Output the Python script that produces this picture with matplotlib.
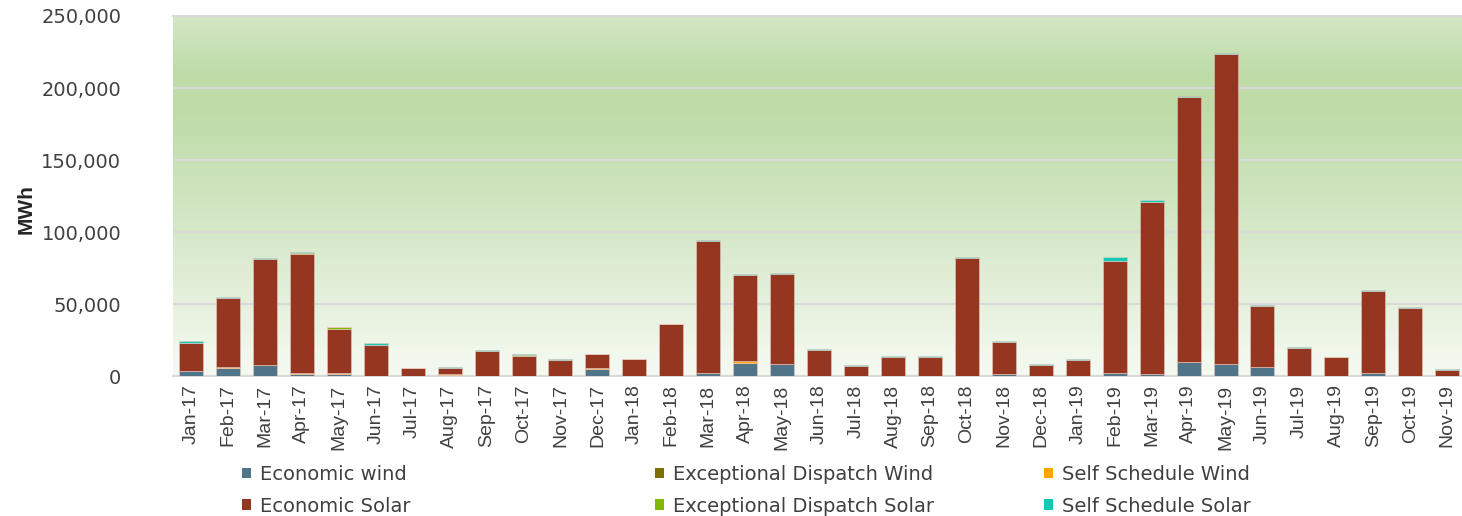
import numpy as np
import matplotlib
matplotlib.use("Agg")
import matplotlib.pyplot as plt
from matplotlib.colors import LinearSegmentedColormap
from matplotlib.patches import Patch

months = ["Jan-17", "Feb-17", "Mar-17", "Apr-17", "May-17", "Jun-17", "Jul-17", "Aug-17",
          "Sep-17", "Oct-17", "Nov-17", "Dec-17", "Jan-18", "Feb-18", "Mar-18", "Apr-18",
          "May-18", "Jun-18", "Jul-18", "Aug-18", "Sep-18", "Oct-18", "Nov-18", "Dec-18",
          "Jan-19", "Feb-19", "Mar-19", "Apr-19", "May-19", "Jun-19", "Jul-19", "Aug-19",
          "Sep-19", "Oct-19", "Nov-19"]

# MWh
economic_wind = [3500, 5600, 7900, 1600, 1600, 200, 200, 900,
                 200, 200, 200, 4900, 200, 300, 1900, 9300,
                 8100, 200, 300, 200, 200, 300, 1400, 200,
                 200, 1900, 1400, 9500, 8400, 6500, 200, 200,
                 1900, 200, 200]
ed_wind = [0, 0, 0, 0, 0, 0, 0, 200,
           0, 0, 0, 0, 0, 0, 0, 0,
           0, 0, 0, 0, 0, 0, 0, 0,
           0, 0, 0, 0, 0, 0, 0, 0,
           0, 0, 0]
ss_wind = [0, 700, 0, 700, 700, 0, 0, 300,
           0, 0, 0, 900, 0, 0, 0, 900,
           0, 0, 0, 0, 0, 0, 0, 0,
           0, 0, 0, 0, 0, 0, 0, 0,
           0, 0, 0]
economic_solar = [19800, 47900, 73500, 82400, 30300, 21700, 5200, 4200,
                  17600, 14100, 11000, 9300, 11400, 35800, 92100, 60200,
                  62900, 18300, 7100, 13000, 13000, 82000, 22500, 7500,
                  11200, 78100, 119600, 184300, 215400, 41900, 19500, 12800,
                  57400, 47400, 4200]
ed_solar = [0, 0, 0, 900, 1200, 0, 0, 200,
            0, 600, 0, 0, 0, 0, 0, 0,
            0, 0, 0, 0, 0, 0, 0, 0,
            0, 0, 0, 0, 0, 0, 0, 0,
            0, 0, 0]
ss_solar = [1100, 700, 900, 300, 400, 900, 600, 300,
            700, 400, 400, 400, 400, 300, 500, 700,
            500, 500, 500, 500, 500, 600, 600, 400,
            400, 2600, 1400, 700, 700, 700, 500, 500,
            500, 300, 300]

series = [
    ("Economic wind", economic_wind, "#507589"),
    ("Exceptional Dispatch Wind", ed_wind, "#7f6f00"),
    ("Self Schedule Wind", ss_wind, "#ffa500"),
    ("Economic Solar", economic_solar, "#953621"),
    ("Exceptional Dispatch Solar", ed_solar, "#7fba00"),
    ("Self Schedule Solar", ss_solar, "#14c8b4"),
]

fig = plt.figure(figsize=(14.62, 5.16), dpi=100)
ax = fig.add_axes([0.118, 0.271, 0.882, 0.698])

# green gradient background
bg = LinearSegmentedColormap.from_list("bg", [
    (0.0, "#f5faf2"), (0.2, "#e6f1dd"), (0.4, "#d6e8c9"),
    (0.72, "#bfdca9"), (0.84, "#bedba8"), (1.0, "#d4e7c5")])
grad = np.linspace(0, 1, 256).reshape(-1, 1)
ax.imshow(grad, cmap=bg, aspect="auto", origin="lower",
          extent=[-0.5, 34.4, 0, 250000], zorder=0)

x = np.arange(len(months))
bottom = np.zeros(len(months))
for name, vals, col in series:
    vals = np.array(vals, dtype=float)
    ax.bar(x, vals, width=0.65, bottom=bottom, color=col, edgecolor="#e9c9c0",
           linewidth=0.4, zorder=3)
    bottom += vals

ax.set_xlim(-0.5, 34.4)
ax.set_ylim(0, 250000)
ax.set_yticks(np.arange(0, 250001, 50000))
ax.set_yticklabels([f"{v:,}" for v in range(0, 250001, 50000)],
                   fontsize=14, color="#404040", family="DejaVu Sans")
ax.set_xticks(x)
ax.set_xticklabels(months, rotation=90, fontsize=14, color="#404040",
                   family="Liberation Sans")
ax.tick_params(axis="x", length=0, pad=6)
ax.tick_params(axis="y", length=0, pad=37)
ax.grid(axis="y", color="#d9d9d9", linewidth=1.5, zorder=1)
for s in ["left", "right"]:
    ax.spines[s].set_visible(False)
ax.spines["top"].set_color("#d9d9d9")
ax.spines["top"].set_linewidth(1.5)
ax.spines["bottom"].set_color("#d9d9d9")
ax.spines["bottom"].set_linewidth(1.5)
ax.set_ylabel("MWh", fontsize=15, fontweight="bold", color="#262626",
              family="Liberation Sans")
ax.yaxis.set_label_coords(-0.106, 0.464)

# legend in three fixed columns, like the original
col_x = [0.1655, 0.448, 0.714]
for i, cx in enumerate(col_x):
    pair = [series[i], series[i + 3]]
    handles = [Patch(facecolor=c, edgecolor="none") for _, _, c in pair]
    fig.legend(handles, [n for n, _, _ in pair], loc="upper left",
               bbox_to_anchor=(cx, 0.099), frameon=False,
               handlelength=0.45, handleheight=0.45, handletextpad=0.5,
               labelspacing=0.65, borderaxespad=0, borderpad=0,
               labelcolor="#404040", prop={"family": "DejaVu Sans", "size": 14})

fig.savefig("out.png", dpi=100)
